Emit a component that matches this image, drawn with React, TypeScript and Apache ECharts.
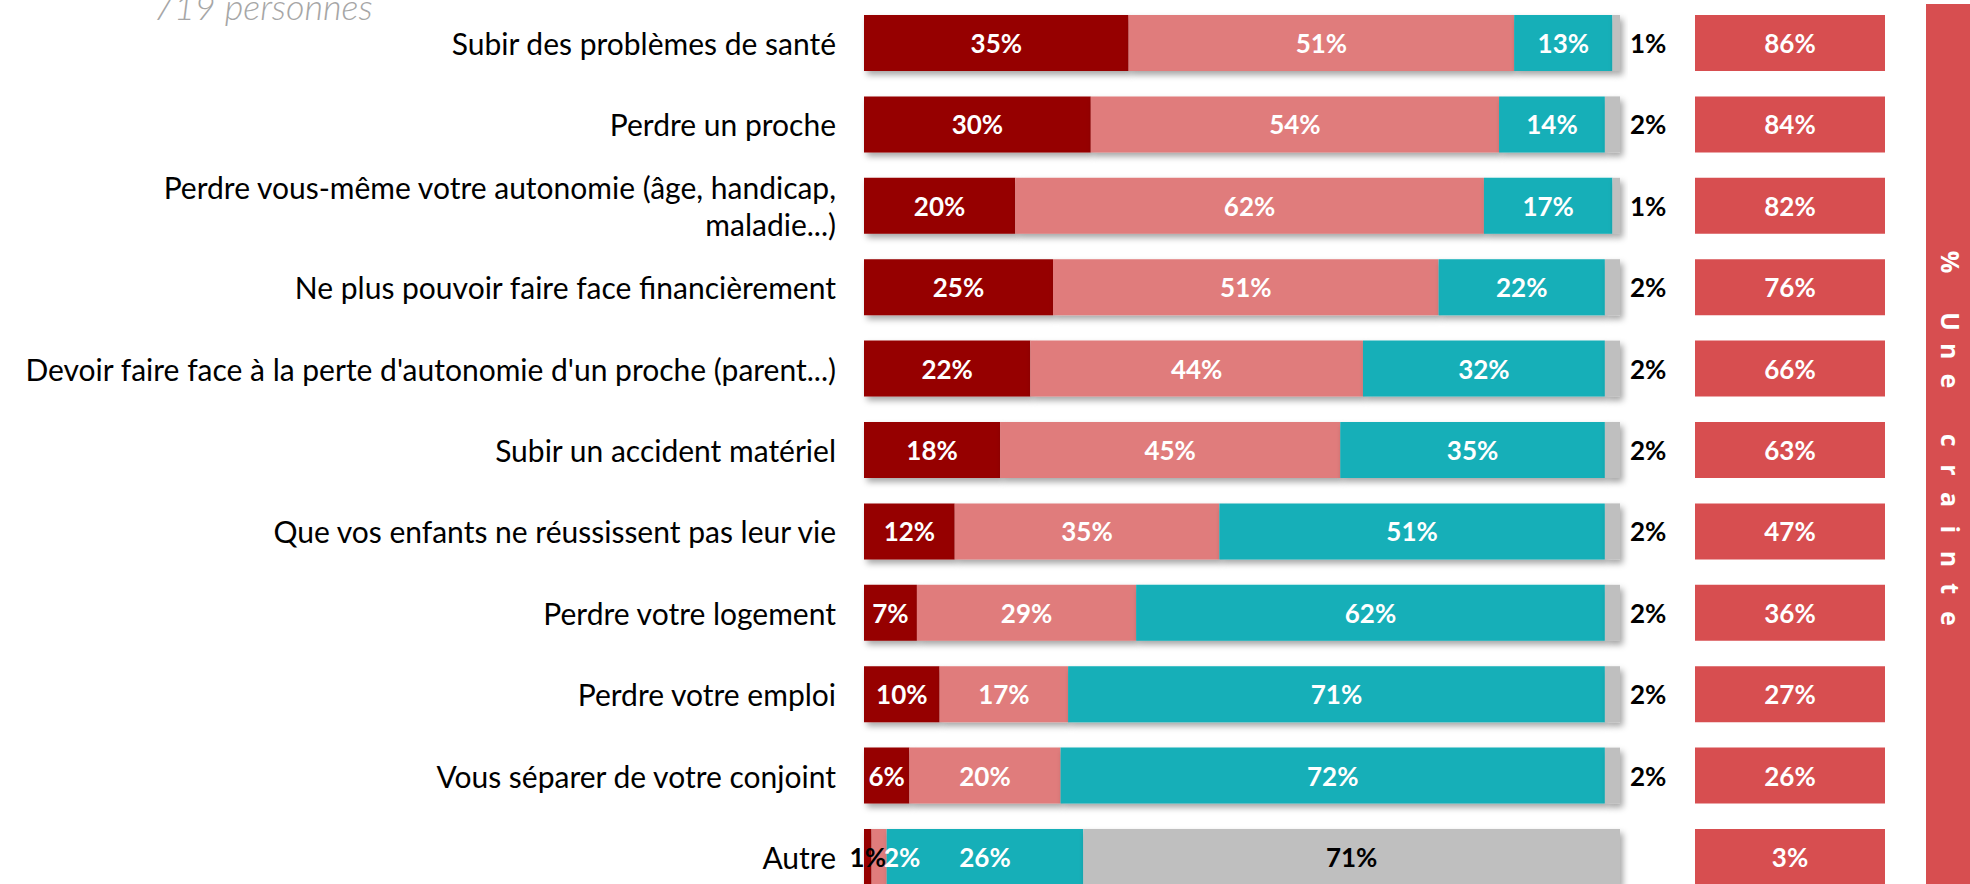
import React, { useEffect, useRef } from "react";
import * as echarts from "echarts";

const categories = [
  "Subir des problèmes de santé",
  "Perdre un proche",
  "Perdre vous-même votre autonomie (âge, handicap,\nmaladie...)",
  "Ne plus pouvoir faire face financièrement",
  "Devoir faire face à la perte d'autonomie d'un proche (parent...)",
  "Subir un accident matériel",
  "Que vos enfants ne réussissent pas leur vie",
  "Perdre votre logement",
  "Perdre votre emploi",
  "Vous séparer de votre conjoint",
  "Autre",
];

const seriesNames = ["Beaucoup", "Un peu", "Pas du tout", "NSP"];
const beaucoup = [35, 30, 20, 25, 22, 18, 12, 7, 10, 6, 1];
const unPeu = [51, 54, 62, 51, 44, 45, 35, 29, 17, 20, 2];
const pasDuTout = [13, 14, 17, 22, 32, 35, 51, 62, 71, 72, 26];
const nsp = [1, 2, 1, 2, 2, 2, 2, 2, 2, 2, 71];
const uneCrainte = [86, 84, 82, 76, 66, 63, 47, 36, 27, 26, 3];

const subtitle = "719 personnes";
const bannerText = "% Une crainte";

const colors = ["#960000", "#E07B7B", "#13AFB8", "#BFBFBF"];
const boxColor = "#D74E50";

const FONT = "Lato";
const GRID_TOP = 2.3;
const GRID_H = 895.4;
const BAR_W = 56;

export default function App() {
  const ref = useRef<HTMLDivElement>(null);
  useEffect(() => {
    if (!ref.current) return;
    const chart = echarts.init(ref.current, null, { renderer: "svg" });
    const last = categories.length - 1;
    const shadow = {
      shadowBlur: 6,
      shadowOffsetX: 3,
      shadowOffsetY: 4,
      shadowColor: "rgba(0,0,0,0.35)",
    };
    const baseLabel = {
      show: true,
      position: "inside",
      formatter: "{c}%",
      color: "#fff",
      fontFamily: FONT,
      fontWeight: "bold",
      fontSize: 26,
    };
    const makeData = (arr: number[], idx: number) =>
      arr.map((v, i) => {
        if (i !== last) return v;
        if (idx === 0) return { value: v, label: { color: "#000" } };
        if (idx === 1) return { value: v, label: { offset: [23, 0] } };
        if (idx === 3)
          return { value: v, label: { position: "inside", color: "#000", distance: 0 } };
        return v;
      });
    const stacks = [beaucoup, unPeu, pasDuTout, nsp].map((arr, idx) => ({
      name: seriesNames[idx],
      type: "bar",
      stack: "total",
      xAxisIndex: 0,
      yAxisIndex: 0,
      barWidth: BAR_W,
      data: makeData(arr, idx),
      itemStyle: { color: colors[idx], ...shadow },
      label:
        idx === 3
          ? { ...baseLabel, position: "right", distance: 10, color: "#000" }
          : baseLabel,
    }));

    const bannerChars = bannerText.split("").map((ch, i) => ({
      type: "text",
      x: 1951,
      y: 262 + i * 29.7,
      rotation: -Math.PI / 2,
      style: {
        text: ch,
        fill: "#fff",
        font: `bold 25px "Open Sans"`,
        align: "center",
        verticalAlign: "middle",
      },
    }));

    chart.setOption({
      animation: false,
      grid: [
        { left: 864, width: 756, top: GRID_TOP, height: GRID_H },
        { left: 1695, width: 190, top: GRID_TOP, height: GRID_H },
      ],
      xAxis: [
        { type: "value", gridIndex: 0, min: 0, max: 100, show: false },
        { type: "value", gridIndex: 1, min: 0, max: 1, show: false },
      ],
      yAxis: [
        {
          type: "category",
          gridIndex: 0,
          data: categories,
          inverse: true,
          axisLine: { show: false },
          axisTick: { show: false },
          axisLabel: {
            margin: 28,
            color: "#000",
            fontFamily: FONT,
            fontSize: 30,
            lineHeight: 37,
            align: "right",
          },
        },
        {
          type: "category",
          gridIndex: 1,
          data: categories,
          inverse: true,
          show: false,
        },
      ],
      series: [
        ...stacks,
        {
          name: "Une crainte",
          type: "bar",
          xAxisIndex: 1,
          yAxisIndex: 1,
          barWidth: BAR_W,
          data: uneCrainte.map((v) => ({ value: 1, pct: v })),
          itemStyle: { color: boxColor },
          label: {
            ...baseLabel,
            formatter: (p: any) => `${uneCrainte[p.dataIndex]}%`,
          },
        },
      ],
      graphic: [
        {
          type: "rect",
          shape: { x: 1926, y: 4, width: 60, height: 900 },
          style: { fill: boxColor },
        },
        ...bannerChars,
        {
          type: "text",
          x: 153,
          y: 24,
          style: {
            text: subtitle,
            fill: "#A6A6A6",
            font: `italic 300 36px ${FONT}`,
            align: "left",
            verticalAlign: "bottom",
          },
        },
      ],
    });
    return () => chart.dispose();
  }, []);
  return (
    <div
      style={{
        position: "absolute",
        left: 0,
        top: 0,
        width: 1970,
        height: 884,
        overflow: "hidden",
      }}
    >
      <div ref={ref} style={{ width: 1970, height: 920 }} />
    </div>
  );
}
